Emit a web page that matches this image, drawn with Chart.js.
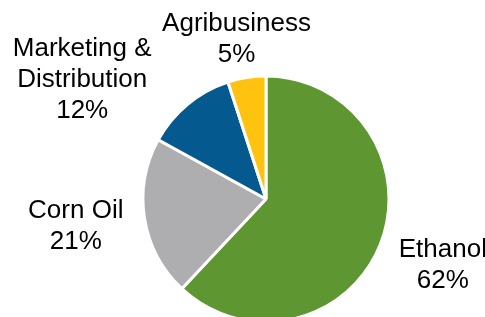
<!DOCTYPE html>
<html>
<head>
<meta charset="utf-8">
<script src="https://cdn.jsdelivr.net/npm/chart.js@4"></script>
<style>
  html, body { margin: 0; padding: 0; background: #fff; }
  #wrap { position: relative; width: 485px; height: 317px; }
</style>
</head>
<body>
<div id="wrap"><canvas id="chart"></canvas></div>
<script>
// segment data, clockwise from 12 o'clock
const categories = [['Ethanol'], ['Corn Oil'], ['Marketing &', 'Distribution'], ['Agribusiness']];
const shares = [62, 21, 12, 5];
const colors = ['#5E9732', '#AEAEB0', '#04598E', '#FFC20E'];

// where each label sits: distance in radii and a nudge (deg) off the slice middle
const labelLayout = [
  { r: 1.53, da: -1.6 },
  { r: 1.56, da: 1.5 },
  { r: 1.79, da: -17 },
  { r: 1.34, da: -1.3 }
];

const outsideLabels = {
  id: 'outsideLabels',
  afterDatasetsDraw(chart) {
    const ctx = chart.ctx;
    const arcs = chart.getDatasetMeta(0).data;
    const size = 26;
    ctx.save();
    ctx.font = size + 'px "Liberation Sans", Arial, sans-serif';
    ctx.fillStyle = '#000';
    ctx.textAlign = 'center';
    ctx.textBaseline = 'alphabetic';
    const lineH = 31;
    arcs.forEach((arc, i) => {
      const { x, y, startAngle, endAngle, outerRadius } = arc.getProps(['x', 'y', 'startAngle', 'endAngle', 'outerRadius'], true);
      const lay = labelLayout[i];
      const a = (startAngle + endAngle) / 2 + lay.da * Math.PI / 180;
      const px = x + Math.cos(a) * outerRadius * lay.r;
      const py = y + Math.sin(a) * outerRadius * lay.r;
      const lines = categories[i].concat([shares[i] + '%']);
      const top = py - (lines.length - 1) * lineH / 2 + size * 0.36;
      lines.forEach((t, j) => ctx.fillText(t, px, top + j * lineH));
    });
    ctx.restore();
  }
};

new Chart(document.getElementById('chart'), {
  type: 'pie',
  data: {
    labels: categories,
    datasets: [{
      data: shares,
      backgroundColor: colors,
      borderColor: '#fff',
      borderWidth: 3,
      hoverBorderWidth: 3,
      clip: false
    }]
  },
  options: {
    responsive: true,
    maintainAspectRatio: false,
    animation: false,
    radius: 123,
    layout: { padding: { left: 60, right: 13, top: 90, bottom: 9 } },
    plugins: {
      legend: { display: false },
      tooltip: { enabled: false }
    }
  },
  plugins: [outsideLabels]
});
</script>
</body>
</html>
